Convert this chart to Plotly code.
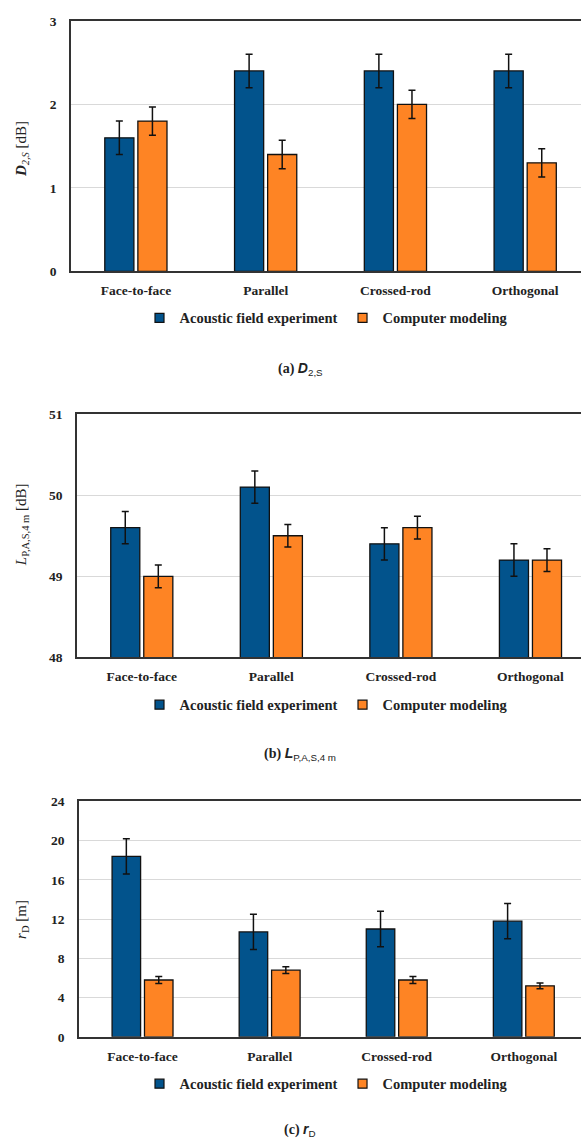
import plotly.graph_objects as go

categories = ["Face-to-face", "Parallel", "Crossed-rod", "Orthogonal"]
series_names = ["Acoustic field experiment", "Computer modeling"]

# Panel (a) D2,S [dB]
a_exp = [1.6, 2.4, 2.4, 2.4]
a_exp_err = [0.2, 0.2, 0.2, 0.2]
a_mod = [1.8, 1.4, 2.0, 1.3]
a_mod_err = [0.17, 0.17, 0.17, 0.17]

# Panel (b) L_P,A,S,4m [dB]
b_exp = [49.6, 50.1, 49.4, 49.2]
b_exp_err = [0.2, 0.2, 0.2, 0.2]
b_mod = [49.0, 49.5, 49.6, 49.2]
b_mod_err = [0.14, 0.14, 0.14, 0.14]

# Panel (c) rD [m]
c_exp = [18.4, 10.7, 11.0, 11.8]
c_exp_err = [1.8, 1.8, 1.8, 1.8]
c_mod = [5.8, 6.8, 5.8, 5.2]
c_mod_err = [0.35, 0.35, 0.35, 0.3]

BLUE = "#02538C"
ORANGE = "#FE8424"
SERIF = "Liberation Serif, Times New Roman, serif"

W, H = 581, 1148

fig = go.Figure()

panels = [
    ("x", "y", "legend", a_exp, a_exp_err, a_mod, a_mod_err),
    ("x2", "y2", "legend2", b_exp, b_exp_err, b_mod, b_mod_err),
    ("x3", "y3", "legend3", c_exp, c_exp_err, c_mod, c_mod_err),
]

for xa, ya, lg, e, ee, m, me in panels:
    for name, vals, errs, col in [(series_names[0], e, ee, BLUE), (series_names[1], m, me, ORANGE)]:
        fig.add_trace(go.Bar(
            x=categories, y=vals, name=name, xaxis=xa, yaxis=ya,
            marker=dict(color=col, line=dict(color="#111111", width=1.3)),
            error_y=dict(type="data", array=errs, visible=True, color="#111111",
                         thickness=1.5, width=3.5),
            showlegend=False,
        ))
    for name, col in [(series_names[0], BLUE), (series_names[1], ORANGE)]:
        fig.add_trace(go.Scatter(
            x=[None], y=[None], mode="markers", name="<b>" + name + "</b>",
            xaxis=xa, yaxis=ya, legend=lg, showlegend=True,
            marker=dict(symbol="square", size=9, color=col,
                        line=dict(color="#111111", width=1.2)),
        ))

def py(px):
    return 1 - px / H

axis_common = dict(showline=True, linecolor="#333333", linewidth=1.5)
tickfont = dict(family=SERIF, size=13.5, color="#222222")

doms = [
    (71, 14, 268, [0, 3], [0, 1, 2, 3], [-0.5, 3.43]),
    (77, 412.5, 659, [48, 51], [48, 49, 50, 51], [-0.5, 3.39]),
    (79, 805, 1043.5, [0, 24], [0, 4, 8, 12, 16, 20, 24], [-0.5, 3.45]),
]
for i, (left, top, bottom, yr, tv, xr) in enumerate(doms):
    sfx = "" if i == 0 else str(i + 1)
    fig.update_layout(**{
        "xaxis" + sfx: dict(domain=[left / W, 1], range=xr, anchor="y" + sfx,
                            mirror=True, ticks="", tickfont=tickfont,
                            tickmode="array", tickvals=categories,
                            ticktext=["<b>" + c + "</b>" for c in categories],
                            ticklabelstandoff=6, showgrid=False, **axis_common),
        "yaxis" + sfx: dict(domain=[py(bottom), py(top)], range=yr,
                            tickmode="array", tickvals=tv,
                            ticktext=["<b>%d</b>" % v for v in tv],
                            anchor="x" + sfx, showgrid=True, gridcolor="#d9d9d9",
                            gridwidth=1, ticks="", tickfont=tickfont,
                            ticklabelstandoff=10, zeroline=False, **axis_common),
    })

leg_common = dict(orientation="h", xanchor="center", yanchor="middle",
                  font=dict(family=SERIF, size=14.5, color="#222222"),
                  bgcolor="rgba(0,0,0,0)", itemwidth=30, traceorder="normal")
fig.update_layout(
    legend=dict(x=326 / W, y=py(315), **leg_common),
    legend2=dict(x=326 / W, y=py(707), **leg_common),
    legend3=dict(x=326 / W, y=py(1091), **leg_common),
)

ytitles = [
    ("<i><b>D</b></i><sub><i>2,S</i></sub> [dB]", 144),
    ("<i>L</i><sub>P,A,S,4 m</sub> [dB]", 525),
    ("<i>r</i><sub>D</sub> [m]", 925),
]
for txt, yc in ytitles:
    fig.add_annotation(text=txt, x=22 / W, y=py(yc), xref="paper", yref="paper",
                       textangle=-90, showarrow=False, xanchor="center", yanchor="middle",
                       font=dict(family=SERIF, size=15, color="#222222"))

caps = [
    ("<b>(a) </b><span style='font-family:Liberation Sans'><b><i>D</i></b><sub>2,S</sub></span>", 367),
    ("<b>(b) </b><span style='font-family:Liberation Sans'><b><i>L</i></b><sub>P,A,S,4 m</sub></span>", 757),
    ("<b>(c) </b><span style='font-family:Liberation Sans'><b><i>r</i></b><sub>D</sub></span>", 1138),
]
for txt, yc in caps:
    fig.add_annotation(text=txt, x=300 / W, y=py(yc), xref="paper", yref="paper",
                       showarrow=False, xanchor="center", yanchor="middle",
                       font=dict(family=SERIF, size=14, color="#222222"))

fig.update_layout(
    width=W, height=H, margin=dict(l=0, r=0, t=0, b=0),
    paper_bgcolor="white", plot_bgcolor="white",
    barmode="group", bargap=0.49, bargroupgap=0.12,
)

fig.write_html("out.html")
